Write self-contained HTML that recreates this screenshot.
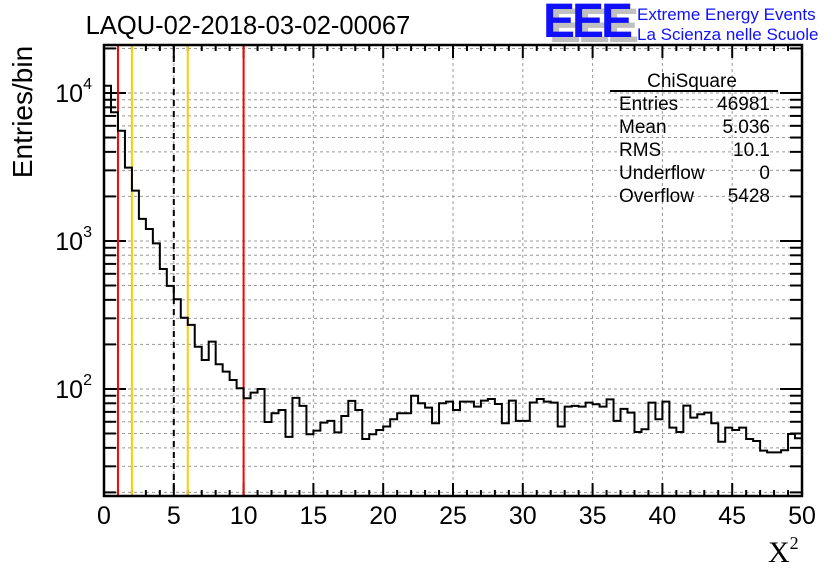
<!DOCTYPE html>
<html><head><meta charset="utf-8">
<style>
html,body{margin:0;padding:0;background:#fff;}
svg{display:block;font-family:"Liberation Sans",Arial,sans-serif;}
</style></head>
<body>
<svg id="c" width="836" height="572" viewBox="0 0 836 572">
  <text x="248" y="34" font-size="25.5" text-anchor="middle">LAQU-02-2018-03-02-00067</text>
  <g>
    <text x="549" y="42" font-size="48" font-weight="bold" fill="#c0c0c0" letter-spacing="-3">EEE</text>
    <text x="543" y="37" font-size="48" font-weight="bold" fill="#1010ff" letter-spacing="-3">EEE</text>
    <text x="637" y="20" font-size="17" fill="#1010ff">Extreme Energy Events</text>
    <text x="637" y="40" font-size="17" fill="#1010ff">La Scienza nelle Scuole</text>
  </g>
  <text transform="translate(32,112) rotate(-90)" font-size="28" text-anchor="middle">Entries/bin</text>
  <text x="768" y="562" font-size="30" font-family="'Liberation Serif',serif">X<tspan font-size="18" dy="-13">2</tspan></text>
  <g id="grid"></g>
  <g id="axes"></g>
  <g id="vlines"></g>
  <g id="hist"></g>
  <g id="frame"></g>
  <g id="stats">
    <text x="692" y="87" font-size="19" text-anchor="middle">ChiSquare</text>
    <line x1="610" y1="91" x2="778" y2="91" stroke="#000" stroke-width="2"/>
  </g>
</svg>
<script>
const binValues = [11200,7410,5560,3130,2190,1410,1205,964,647,497,404,303,271,193,157,209,147,131,115,101,
86.5,94.5,100,59.8,68.5,72.1,47.4,87,76.8,49.4,52.3,59.2,60.8,50.9,65.7,83,72.1,45.9,49.4,52.8,
55.7,62.4,68.5,68.5,90,80,74.8,58.6,80,82.1,72.1,82.1,82.1,76,83.4,85.6,79.2,58.6,83.4,60.8,
60.8,81,85.6,82.1,80.8,55.7,76,76.8,76,80.8,78.8,76,85,60.8,73.3,69.2,51.2,53.4,80.8,62.4,
82.1,54.8,51.2,77.2,64,67.4,69.2,58.6,44,54.8,52.8,54.8,45.9,44.5,38.3,37.3,37.3,38.5,49.6,46.4];
const xTickLabels = [0,5,10,15,20,25,30,35,40,45,50];
const yDecades = [2,3,4];
const cutLines = [1,2,5,6,10];
const cutColors = ["#ff0000","#ffcc00","#000000","#ffcc00","#ff0000"];
const statNames = ["Entries","Mean","RMS","Underflow","Overflow"];
const statValues = ["46981","5.036","10.1","0","5428"];

const NS="http://www.w3.org/2000/svg";
const L=104,R=802,T=45,B=496;
const XMIN=0,XMAX=50,BW=0.5;
const LMIN=1.2766,LMAX=4.3243;
const sx=v=>L+(v-XMIN)/(XMAX-XMIN)*(R-L);
const sy=v=>B-(Math.log10(v)-LMIN)/(LMAX-LMIN)*(B-T);
function mk(tag,attrs,parent){const e=document.createElementNS(NS,tag);for(const k in attrs)e.setAttribute(k,attrs[k]);parent.appendChild(e);return e;}
const grid=document.getElementById('grid'),axes=document.getElementById('axes'),vl=document.getElementById('vlines'),hist=document.getElementById('hist'),stats=document.getElementById('stats'),frame=document.getElementById('frame');






xTickLabels.forEach(v=>{if(v>XMIN&&v<XMAX){const g=mk('line',{x1:sx(v),x2:sx(v),y1:T,y2:B,stroke:'#999','stroke-dasharray':'3,3','stroke-width':1},grid);}});
for(let d=1;d<=4;d++){for(let m=1;m<=9;m++){const v=m*Math.pow(10,d);const lv=Math.log10(v);if(lv<LMIN||lv>LMAX)continue;const y=sy(v);
 const g=mk('line',{x1:L,x2:R,y1:y,y2:y,stroke:'#999','stroke-dasharray':'3,3','stroke-width':1},grid);
 const len=m===1?22:12;
 mk('line',{x1:L,x2:L+len,y1:y,y2:y,stroke:'#000','stroke-width':2},axes);
 mk('line',{x1:R,x2:R-len,y1:y,y2:y,stroke:'#000','stroke-width':2},axes);}}
yDecades.forEach(d=>{const y=sy(Math.pow(10,d));const t=mk('text',{x:92,y:y+9,'font-size':25,'text-anchor':'end'},axes);t.textContent='10';const s=mk('tspan',{dy:-13,'font-size':16},t);s.textContent=d;});
for(let v=XMIN;v<=XMAX;v++){const maj=v%5===0;const len=maj?13:6;
 mk('line',{x1:sx(v),x2:sx(v),y1:B,y2:B-len,stroke:'#000','stroke-width':2},axes);
 mk('line',{x1:sx(v),x2:sx(v),y1:T,y2:T+len,stroke:'#000','stroke-width':2},axes);}
xTickLabels.forEach(v=>{const t=mk('text',{x:sx(v),y:524,'font-size':25,'text-anchor':'middle'},axes);t.textContent=v;});
cutLines.forEach((v,i)=>{const a={x1:sx(v),x2:sx(v),y1:T,y2:B,stroke:cutColors[i],'stroke-width':2};if(i===2)a['stroke-dasharray']='6,5';const l=mk('line',a,vl);});
let d='';binValues.forEach((v,i)=>{const x0=sx(XMIN+i*BW),x1=sx(XMIN+(i+1)*BW),y=sy(v);d+=(i===0?'M'+x0+','+y:'L'+x0+','+y)+'L'+x1+','+y;});
const p=mk('path',{d:d,fill:'none',stroke:'#000','stroke-width':2},hist);

const fr=mk('rect',{x:L,y:T,width:R-L,height:B-T,fill:'none',stroke:'#000','stroke-width':2.5},frame);

statNames.forEach((n,i)=>{const y=110+i*23;
 const a=mk('text',{x:619,y:y,'font-size':19},stats);a.textContent=n;
 const b=mk('text',{x:770,y:y,'font-size':19,'text-anchor':'end'},stats);b.textContent=statValues[i];});
</script>
</body></html>
